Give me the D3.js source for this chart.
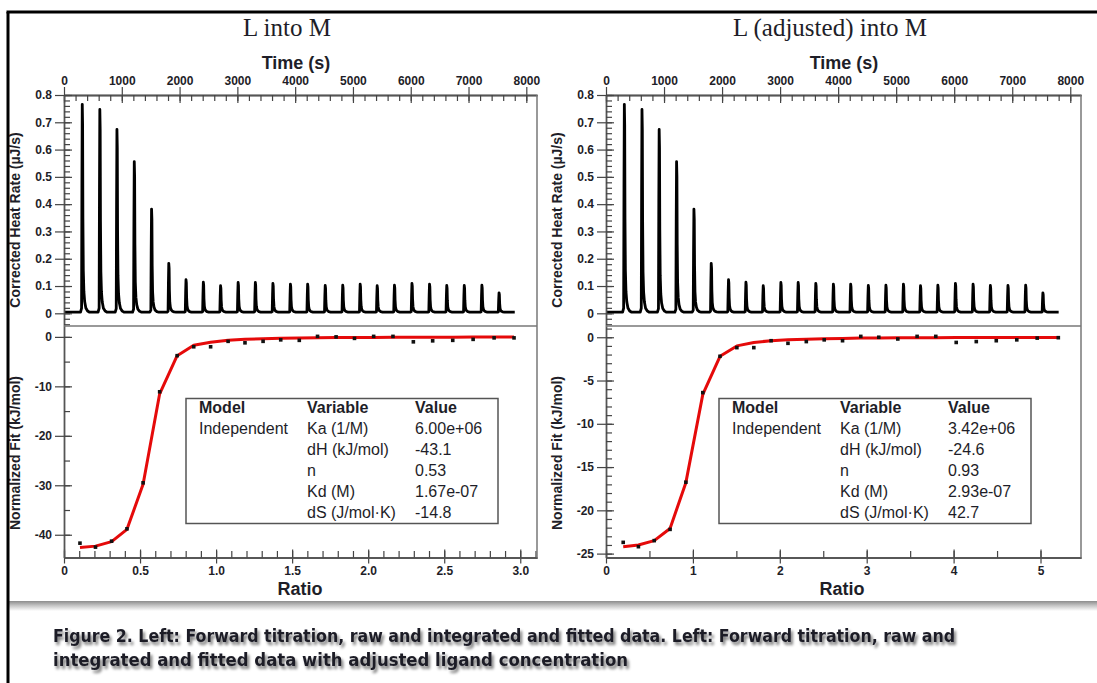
<!DOCTYPE html>
<html>
<head>
<meta charset="utf-8">
<script src="https://cdn.jsdelivr.net/npm/d3@7"></script>
<style>
  body { margin: 0; background: #fff; }
  svg { display: block; }
  text { font-family: "Liberation Sans", Arial, sans-serif; fill: #1e1e28; }
</style>
</head>
<body>
<svg id="fig" width="1097" height="683"></svg>
<script>
// ---- raw thermogram (same injections in both panels) ----
var peakTimes = [318, 622, 918, 1218, 1517, 1815, 2113, 2413, 2711, 3015, 3313, 3617, 3920,
                 4218, 4522, 4825, 5127, 5421, 5720, 6023, 6327, 6625, 6928, 7233, 7530];
var peakHeights = [0.766, 0.747, 0.674, 0.556, 0.382, 0.183, 0.123, 0.114, 0.101, 0.113, 0.113, 0.110, 0.107,
                   0.107, 0.102, 0.103, 0.107, 0.101, 0.103, 0.110, 0.107, 0.102, 0.102, 0.103, 0.075];
// shape of one spike: [seconds from top, fraction of height]
var peakShape = [[-32, 0], [-14, 0.02], [-8, 0.6], [-2, 1], [4, 0.9], [9, 0.45], [16, 0.2],
                 [26, 0.1], [40, 0.05], [60, 0.02], [90, 0.006], [125, 0]];
var baseLevel = 0.004;
var traceEnd = 7800;

// ---- integrated heats and fits ----
var ratioLeft = [0.105, 0.207, 0.313, 0.414, 0.520, 0.629, 0.744, 0.853, 0.964, 1.079, 1.190, 1.309, 1.425,
                 1.547, 1.667, 1.789, 1.910, 2.036, 2.163, 2.297, 2.424, 2.556, 2.690, 2.828, 2.959];
var heatLeft = [-41.7, -42.5, -41.3, -38.8, -29.5, -11.1, -3.8, -2.0, -2.0, -0.9, -1.2, -0.9, -0.6,
                -0.7, 0.1, 0.0, -0.3, 0.1, 0.1, -1.0, -0.8, -0.7, -0.5, -0.2, -0.2];
var fitLeft = [-42.6, -42.3, -41.4, -38.9, -29.8, -11.5, -3.8, -1.7, -1.1, -0.7, -0.5, -0.4, -0.3,
               -0.25, -0.2, -0.15, -0.12, -0.1, -0.08, -0.07, -0.06, -0.05, -0.04, -0.04, -0.03];

var ratioRight = [0.198, 0.373, 0.555, 0.737, 0.919, 1.114, 1.312, 1.506, 1.701, 1.900, 2.094, 2.305, 2.511,
                  2.722, 2.932, 3.139, 3.358, 3.580, 3.795, 4.030, 4.261, 4.491, 4.727, 4.962, 5.205];
var heatRight = [-23.7, -24.2, -23.5, -22.2, -16.75, -6.4, -2.2, -1.2, -1.2, -0.4, -0.7, -0.5, -0.3,
                 -0.4, 0.1, 0.0, -0.2, 0.1, 0.1, -0.6, -0.5, -0.4, -0.3, -0.1, -0.05];
var fitRight = [-24.2, -24.0, -23.5, -22.1, -16.8, -6.6, -2.2, -1.0, -0.6, -0.4, -0.3, -0.22, -0.17,
                -0.13, -0.1, -0.08, -0.07, -0.06, -0.05, -0.04, -0.04, -0.03, -0.03, -0.02, -0.02];

// ---- fit tables ----
var tableHead = ['Model', 'Variable', 'Value'];
var modelName = 'Independent';
var paramNames = ['Ka (1/M)', 'dH (kJ/mol)', 'n', 'Kd (M)', 'dS (J/mol\u00B7K)'];
var valuesLeft = ['6.00e+06', '-43.1', '0.53', '1.67e-07', '-14.8'];
var valuesRight = ['3.42e+06', '-24.6', '0.93', '2.93e-07', '42.7'];

// ---- ticks ----
var timeTicks = [0, 1000, 2000, 3000, 4000, 5000, 6000, 7000, 8000];
var rateTicks = [0, 0.1, 0.2, 0.3, 0.4, 0.5, 0.6, 0.7, 0.8];
var ratioTicksLeft = [0, 0.5, 1.0, 1.5, 2.0, 2.5, 3.0];
var fitTicksLeft = [0, -10, -20, -30, -40];
var ratioTicksRight = [0, 1, 2, 3, 4, 5];
var fitTicksRight = [0, -5, -10, -15, -20, -25];

var captionLines = [
  'Figure 2. Left: Forward titration, raw and  integrated and fitted data. Left: Forward titration, raw and',
  'integrated and fitted data with adjusted ligand  concentration'
];

var svg = d3.select('#fig');
var defs = svg.append('defs');

var shadow = defs.append('filter').attr('id', 'txtShadow')
  .attr('x', '-5%').attr('y', '-50%').attr('width', '110%').attr('height', '200%');
shadow.append('feGaussianBlur').attr('in', 'SourceAlpha').attr('stdDeviation', 1.8).attr('result', 'b');
shadow.append('feOffset').attr('in', 'b').attr('dx', 2).attr('dy', 3).attr('result', 'o');
shadow.append('feComponentTransfer').attr('in', 'o').attr('result', 'o2')
  .append('feFuncA').attr('type', 'linear').attr('slope', 0.55);
var merge = shadow.append('feMerge');
merge.append('feMergeNode').attr('in', 'o2');
merge.append('feMergeNode').attr('in', 'SourceGraphic');

var grad = defs.append('linearGradient').attr('id', 'band')
  .attr('x1', 0).attr('y1', 0).attr('x2', 0).attr('y2', 1);
grad.append('stop').attr('offset', '0%').attr('stop-color', '#8c8c8c');
grad.append('stop').attr('offset', '45%').attr('stop-color', '#c4c4c4');
grad.append('stop').attr('offset', '100%').attr('stop-color', '#ffffff');

// build the thermogram from the peak list
var trace = [[0, baseLevel]];
peakTimes.forEach(function(t, i) {
  peakShape.forEach(function(p) {
    trace.push([t + p[0], baseLevel + p[1] * (peakHeights[i] - baseLevel)]);
  });
});
trace.push([traceEnd, baseLevel]);

var TOP = 95, MID = 326, BOT = 557.5;

function fmtTenth(d) { return d === 0 ? '0' : d3.format('.1f')(d); }
function plain(d) { return String(d); }

function styleAxis(g) {
  g.attr('font-family', null);
  g.select('.domain').attr('stroke', '#555').attr('stroke-width', 1.3);
  g.selectAll('.tick line').attr('stroke', '#444').attr('stroke-width', 1.2);
  g.selectAll('.tick text').attr('font-size', 12).attr('font-weight', 'bold').attr('fill', '#1e1e28');
}

function drawPanel(c) {
  var g = svg.append('g');

  g.append('text').attr('x', c.titleX).attr('y', 36).attr('text-anchor', 'middle')
    .style('font-family', '"Liberation Serif", "Times New Roman", serif')
    .attr('font-size', 25).text(c.title);

  g.append('text').attr('x', c.timeLabelX).attr('y', 69).attr('text-anchor', 'middle')
    .attr('font-size', 18).attr('font-weight', 'bold').text('Time (s)');

  // ---------- raw data ----------
  var x = d3.scaleLinear().domain([0, 8185]).range([c.left, c.right]);
  var y = d3.scaleLinear().domain([-0.0465, 0.8]).range([MID, TOP]);

  g.append('path').datum(trace)
    .attr('fill', 'none').attr('stroke', '#000').attr('stroke-width', 2.8)
    .attr('stroke-linejoin', 'round')
    .attr('d', d3.line().x(function(d) { return x(d[0]); }).y(function(d) { return y(d[1]); }));

  var ax = g.append('g').attr('transform', 'translate(0,' + TOP + ')')
    .call(d3.axisTop(x).tickValues(timeTicks).tickSize(8).tickSizeOuter(0).tickPadding(2).tickFormat(plain));
  styleAxis(ax);
  styleAxis(g.append('g').attr('transform', 'translate(0,' + TOP + ')')
    .call(d3.axisTop(x).tickValues(timeTicks).tickSize(-8).tickSizeOuter(0).tickFormat('')));
  styleAxis(g.append('g').attr('transform', 'translate(0,' + TOP + ')')
    .call(d3.axisTop(x).tickValues(d3.range(0, 8001, 200)).tickSize(-6).tickSizeOuter(0).tickFormat('')));

  var ay = g.append('g').attr('transform', 'translate(' + c.left + ',0)')
    .call(d3.axisLeft(y).tickValues(rateTicks).tickSize(9).tickSizeOuter(0).tickPadding(3).tickFormat(fmtTenth));
  styleAxis(ay);
  styleAxis(g.append('g').attr('transform', 'translate(' + c.left + ',0)')
    .call(d3.axisLeft(y).tickValues(rateTicks).tickSize(-8).tickSizeOuter(0).tickFormat('')));
  styleAxis(g.append('g').attr('transform', 'translate(' + c.left + ',0)')
    .call(d3.axisLeft(y).tickValues(d3.range(-0.04, 0.801, 0.02)).tickSize(-6).tickSizeOuter(0).tickFormat('')));

  g.append('text').attr('transform', 'translate(' + (c.left - 44) + ',220) rotate(-90)')
    .attr('text-anchor', 'middle').attr('font-size', 14).attr('font-weight', 'bold').attr('fill', '#2a2a2a')
    .text('Corrected Heat Rate (\u00B5J/s)');

  // ---------- integrated data ----------
  var xr = d3.scaleLinear().domain([0, c.ratioMax]).range([c.left, c.right]);
  var yr = d3.scaleLinear().domain(c.fitDomain).range([BOT, MID]);

  var pts = c.ratio.map(function(r, i) { return { r: r, h: c.heat[i], f: c.fit[i] }; });

  g.append('path').datum(pts)
    .attr('fill', 'none').attr('stroke', '#e50a0a').attr('stroke-width', 3)
    .attr('stroke-linejoin', 'round')
    .attr('d', d3.line().x(function(d) { return xr(d.r); }).y(function(d) { return yr(d.f); }));

  g.selectAll('.pt').data(pts).enter().append('rect').attr('class', 'pt')
    .attr('x', function(d) { return xr(d.r) - 1.8; })
    .attr('y', function(d) { return yr(d.h) - 1.8; })
    .attr('width', 3.6).attr('height', 3.6).attr('fill', '#111');

  var bx = g.append('g').attr('transform', 'translate(0,' + BOT + ')')
    .call(d3.axisBottom(xr).tickValues(c.ratioTicks).tickSize(6).tickSizeOuter(0).tickPadding(3).tickFormat(c.ratioFmt));
  styleAxis(bx);
  styleAxis(g.append('g').attr('transform', 'translate(0,' + BOT + ')')
    .call(d3.axisBottom(xr).tickValues(c.ratioTicks).tickSize(-8).tickSizeOuter(0).tickFormat('')));
  styleAxis(g.append('g').attr('transform', 'translate(0,' + BOT + ')')
    .call(d3.axisBottom(xr).tickValues(c.ratioMinor).tickSize(-6.5).tickSizeOuter(0).tickFormat('')));

  var by = g.append('g').attr('transform', 'translate(' + c.left + ',0)')
    .call(d3.axisLeft(yr).tickValues(c.fitTicks).tickSize(9).tickSizeOuter(0).tickPadding(3).tickFormat(plain));
  styleAxis(by);
  styleAxis(g.append('g').attr('transform', 'translate(' + c.left + ',0)')
    .call(d3.axisLeft(yr).tickValues(c.fitTicks).tickSize(-8).tickSizeOuter(0).tickFormat('')));
  styleAxis(g.append('g').attr('transform', 'translate(' + c.left + ',0)')
    .call(d3.axisLeft(yr).tickValues(c.fitMinor).tickSize(-6).tickSizeOuter(0).tickFormat('')));

  g.append('text').attr('transform', 'translate(' + (c.left - 44) + ',453) rotate(-90)')
    .attr('text-anchor', 'middle').attr('font-size', 14).attr('font-weight', 'bold').attr('fill', '#2a2a2a')
    .text('Normalized Fit (kJ/mol)');

  g.append('text').attr('x', c.ratioLabelX).attr('y', 595).attr('text-anchor', 'middle')
    .attr('font-size', 18).attr('font-weight', 'bold').text('Ratio');

  // frame and divider
  g.append('line').attr('x1', c.right).attr('x2', c.right).attr('y1', TOP).attr('y2', BOT)
    .attr('stroke', '#777').attr('stroke-width', 1.5);
  g.append('line').attr('x1', c.left).attr('x2', c.right).attr('y1', MID).attr('y2', MID)
    .attr('stroke', '#777').attr('stroke-width', 1.5);

  // fit table
  var tb = g.append('g');
  tb.append('rect').attr('x', c.box[0]).attr('y', 398.5).attr('width', c.box[1] - c.box[0]).attr('height', 125)
    .attr('fill', '#fff').attr('stroke', '#555').attr('stroke-width', 1.5);
  tableHead.forEach(function(h, i) {
    tb.append('text').attr('x', c.cols[i]).attr('y', 413).attr('font-size', 16)
      .attr('font-weight', 'bold').text(h);
  });
  tb.append('text').attr('x', c.cols[0]).attr('y', 434).attr('font-size', 16).text(modelName);
  paramNames.forEach(function(p, i) {
    tb.append('text').attr('x', c.cols[1]).attr('y', 434 + i * 21).attr('font-size', 16).text(p);
    tb.append('text').attr('x', c.cols[2]).attr('y', 434 + i * 21).attr('font-size', 16).text(c.values[i]);
  });
}

// shadow band under the two figures
svg.append('rect').attr('x', 8).attr('y', 601).attr('width', 1089).attr('height', 10).attr('fill', 'url(#band)');

drawPanel({
  title: 'L into M', titleX: 287, timeLabelX: 296, ratioLabelX: 300,
  left: 64, right: 537, ratioMax: 3.11, fitDomain: [-44.6, 2.2],
  ratio: ratioLeft, heat: heatLeft, fit: fitLeft,
  ratioTicks: ratioTicksLeft, ratioMinor: d3.range(0, 3.101, 0.1), ratioFmt: fmtTenth,
  fitTicks: fitTicksLeft, fitMinor: d3.range(-40, 0.01, 5),
  box: [186, 498], cols: [199, 307, 415], values: valuesLeft
});

drawPanel({
  title: 'L (adjusted) into M', titleX: 830, timeLabelX: 844, ratioLabelX: 842,
  left: 606, right: 1081, ratioMax: 5.466, fitDomain: [-25.45, 1.3],
  ratio: ratioRight, heat: heatRight, fit: fitRight,
  ratioTicks: ratioTicksRight, ratioMinor: d3.range(0, 5.01, 0.5), ratioFmt: plain,
  fitTicks: fitTicksRight, fitMinor: d3.range(-25, 1.01, 1),
  box: [719, 1031], cols: [732, 840, 948], values: valuesRight
});

svg.append('line').attr('x1', 6.5).attr('x2', 1097).attr('y1', 12).attr('y2', 12)
  .attr('stroke', '#000').attr('stroke-width', 3);
svg.append('line').attr('x1', 8).attr('x2', 8).attr('y1', 12).attr('y2', 683)
  .attr('stroke', '#000').attr('stroke-width', 3);

// caption
var cap = svg.append('g').attr('filter', 'url(#txtShadow)');
cap.append('text').attr('x', 53).attr('y', 642).attr('font-size', 17).attr('font-weight', 'bold')
  .style('font-family', '"Liberation Sans Narrow", "DejaVu Sans Condensed", sans-serif')
  .attr('fill', '#262626').attr('textLength', 902).attr('lengthAdjust', 'spacingAndGlyphs')
  .text(captionLines[0]);
cap.append('text').attr('x', 53).attr('y', 666).attr('font-size', 17).attr('font-weight', 'bold')
  .style('font-family', '"Liberation Sans Narrow", "DejaVu Sans Condensed", sans-serif')
  .attr('fill', '#262626').attr('textLength', 575).attr('lengthAdjust', 'spacingAndGlyphs')
  .text(captionLines[1]);
</script>
</body>
</html>
